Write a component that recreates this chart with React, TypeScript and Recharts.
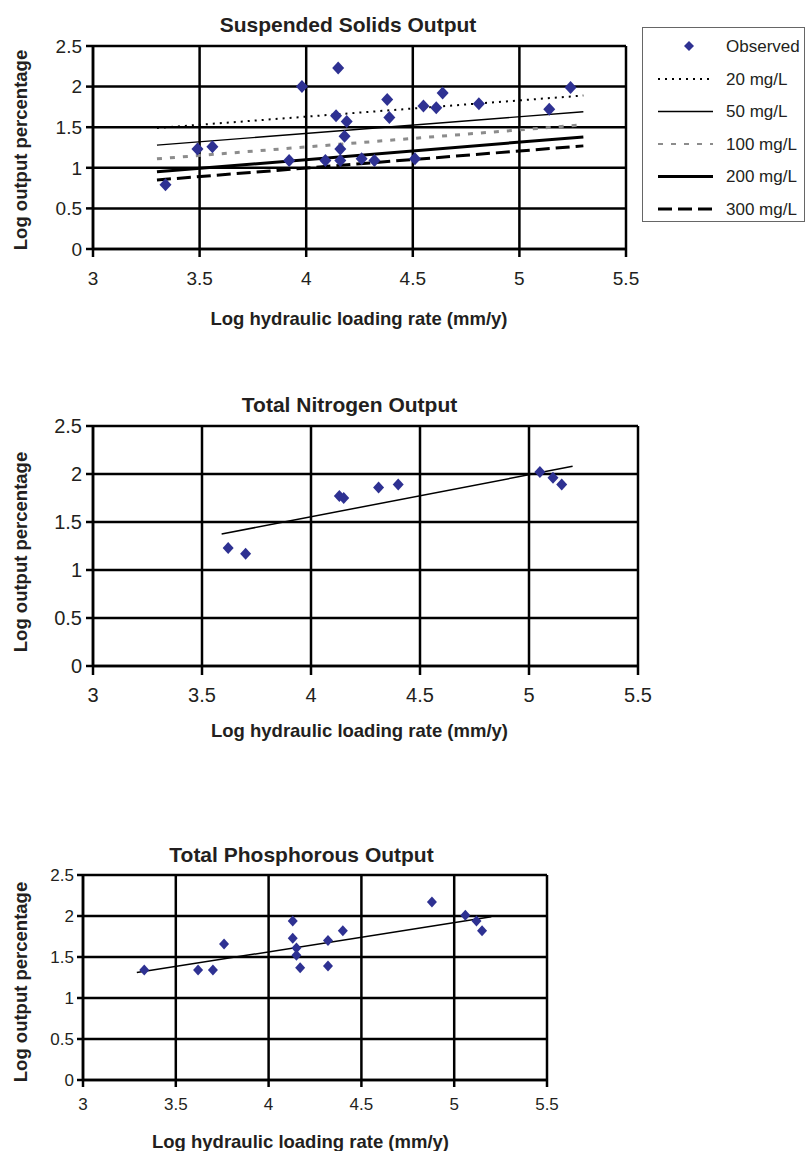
import { ComposedChart, Scatter, Line, XAxis, YAxis, CartesianGrid } from 'recharts';

type Pt = { x: number; y: number };

const xTicks = [3, 3.5, 4, 4.5, 5, 5.5];
const yTicks = [0, 0.5, 1, 1.5, 2, 2.5];

// Suspended solids
const ssObserved: Pt[] = [
  { x: 3.34, y: 0.79 }, { x: 3.49, y: 1.23 }, { x: 3.56, y: 1.26 }, { x: 3.92, y: 1.09 },
  { x: 3.98, y: 2.0 }, { x: 4.09, y: 1.09 }, { x: 4.14, y: 1.64 }, { x: 4.15, y: 2.23 },
  { x: 4.16, y: 1.23 }, { x: 4.16, y: 1.09 }, { x: 4.18, y: 1.39 }, { x: 4.19, y: 1.57 },
  { x: 4.26, y: 1.11 }, { x: 4.32, y: 1.09 }, { x: 4.38, y: 1.84 }, { x: 4.39, y: 1.62 },
  { x: 4.51, y: 1.11 }, { x: 4.55, y: 1.76 }, { x: 4.61, y: 1.74 }, { x: 4.64, y: 1.92 },
  { x: 4.81, y: 1.79 }, { x: 5.14, y: 1.72 }, { x: 5.24, y: 1.99 },
];
const ss20: Pt[] = [{ x: 3.3, y: 1.49 }, { x: 5.3, y: 1.89 }];
const ss50: Pt[] = [{ x: 3.3, y: 1.28 }, { x: 5.3, y: 1.69 }];
const ss100: Pt[] = [{ x: 3.3, y: 1.11 }, { x: 5.3, y: 1.53 }];
const ss200: Pt[] = [{ x: 3.3, y: 0.95 }, { x: 5.3, y: 1.38 }];
const ss300: Pt[] = [{ x: 3.3, y: 0.85 }, { x: 5.3, y: 1.27 }];

// Total nitrogen
const tnObserved: Pt[] = [
  { x: 3.62, y: 1.23 }, { x: 3.7, y: 1.17 }, { x: 4.13, y: 1.77 }, { x: 4.15, y: 1.75 },
  { x: 4.31, y: 1.86 }, { x: 4.4, y: 1.89 }, { x: 5.05, y: 2.02 }, { x: 5.11, y: 1.96 },
  { x: 5.15, y: 1.89 },
];
const tnTrend: Pt[] = [{ x: 3.59, y: 1.375 }, { x: 5.2, y: 2.08 }];

// Total phosphorous
const tpObserved: Pt[] = [
  { x: 3.33, y: 1.34 }, { x: 3.62, y: 1.34 }, { x: 3.7, y: 1.34 }, { x: 3.76, y: 1.66 },
  { x: 4.13, y: 1.94 }, { x: 4.13, y: 1.73 }, { x: 4.15, y: 1.61 }, { x: 4.15, y: 1.52 },
  { x: 4.17, y: 1.37 }, { x: 4.32, y: 1.39 }, { x: 4.32, y: 1.7 }, { x: 4.4, y: 1.82 },
  { x: 4.88, y: 2.17 }, { x: 5.06, y: 2.01 }, { x: 5.12, y: 1.94 }, { x: 5.15, y: 1.82 },
];
const tpTrend: Pt[] = [{ x: 3.29, y: 1.31 }, { x: 5.2, y: 1.99 }];

const FONT = '"Liberation Sans", Arial, Helvetica, sans-serif';
const INK = '#231f20';
const MARKER = '#2e3192';

interface LineSpec {
  name: string;
  data: Pt[];
  stroke: string;
  width: number;
  dash?: string;
}

const ssLines: LineSpec[] = [
  { name: '20 mg/L', data: ss20, stroke: '#000', width: 2, dash: '2 5' },
  { name: '50 mg/L', data: ss50, stroke: '#000', width: 1.3 },
  { name: '100 mg/L', data: ss100, stroke: '#8c8c8c', width: 3, dash: '5 8' },
  { name: '200 mg/L', data: ss200, stroke: '#000', width: 3 },
  { name: '300 mg/L', data: ss300, stroke: '#000', width: 3, dash: '14 6' },
];

function Diamond(props: any) {
  const { cx, cy, rx, ry } = props;
  if (cx == null || cy == null) return null;
  return (
    <polygon
      points={`${cx},${cy - ry} ${cx + rx},${cy} ${cx},${cy + ry} ${cx - rx},${cy}`}
      fill={MARKER}
    />
  );
}

interface PanelProps {
  top: number;
  height: number;
  margin: { top: number; right: number; bottom: number; left: number };
  fontSize: number;
  xTickSize: number;
  xTickMargin: number;
  yTickSize: number;
  yTickMargin: number;
  rx: number;
  ry: number;
  observed: Pt[];
  lines: LineSpec[];
}

function Panel(p: PanelProps) {
  const tick = { fill: INK, fontSize: p.fontSize, fontFamily: FONT };
  const axisLine = { stroke: '#000', strokeWidth: 2.5 };
  return (
    <div style={{ position: 'absolute', left: 0, top: p.top }}>
      <ComposedChart width={806} height={p.height} margin={p.margin}>
        <CartesianGrid stroke="#000" strokeWidth={2.5} />
        <XAxis
          type="number" dataKey="x" domain={[3, 5.5]} ticks={xTicks} interval={0}
          height={30} axisLine={axisLine} tickLine={axisLine}
          tickSize={p.xTickSize} tickMargin={p.xTickMargin} tick={tick} allowDataOverflow
        />
        <YAxis
          type="number" dataKey="y" domain={[0, 2.5]} ticks={yTicks} interval={0}
          width={60} axisLine={axisLine} tickLine={axisLine}
          tickSize={p.yTickSize} tickMargin={p.yTickMargin} tick={tick} allowDataOverflow
        />
        {p.lines.map(l => (
          <Line
            key={l.name} name={l.name} data={l.data} dataKey="y" type="linear"
            stroke={l.stroke} strokeWidth={l.width} strokeDasharray={l.dash}
            dot={false} activeDot={false} isAnimationActive={false}
          />
        ))}
        <Scatter
          name="Observed" data={p.observed} isAnimationActive={false}
          shape={(s: any) => <Diamond {...s} rx={p.rx} ry={p.ry} />}
        />
      </ComposedChart>
    </div>
  );
}

function LegendBox() {
  return (
    <div style={{
      position: 'absolute', left: 642, top: 27, width: 161, height: 193,
      border: '1.5px solid #666', background: '#fff', fontFamily: FONT, fontSize: 17, color: INK,
    }}>
      <svg width={161} height={193} style={{ position: 'absolute', left: 0, top: 0 }}>
        <polygon points="46,13 51,18 46,23 41,18" fill={MARKER} />
        <text x={83} y={18} dominantBaseline="central" fill={INK} fontSize={17} fontFamily={FONT}>Observed</text>
        {ssLines.map((l, i) => {
          const y = 51 + i * 32.5;
          return (
            <g key={l.name}>
              <line x1={15} x2={70} y1={y} y2={y} stroke={l.stroke}
                strokeWidth={l.name === '100 mg/L' ? 2 : l.width} strokeDasharray={l.dash} />
              <text x={83} y={y} dominantBaseline="central" fill={INK} fontSize={17} fontFamily={FONT}>{l.name}</text>
            </g>
          );
        })}
      </svg>
    </div>
  );
}

export default function App() {
  const titleStyle = { fontFamily: FONT, fontWeight: 700, fill: INK };
  const xTitle = 'Log hydraulic loading rate (mm/y)';
  const yTitle = 'Log output percentage';
  return (
    <div style={{ position: 'absolute', left: 0, top: 0, width: 806, height: 1151, background: '#fff' }}>
      <Panel
        top={0} height={340} margin={{ top: 46, right: 180, bottom: 61, left: 33 }}
        fontSize={19} xTickSize={8} xTickMargin={15} yTickSize={7} yTickMargin={4}
        rx={6} ry={6.5} observed={ssObserved} lines={ssLines}
      />
      <Panel
        top={380} height={360} margin={{ top: 46, right: 168, bottom: 44, left: 33 }}
        fontSize={20} xTickSize={9} xTickMargin={13} yTickSize={7} yTickMargin={4}
        rx={5.5} ry={6} observed={tnObserved}
        lines={[{ name: 'Trend', data: tnTrend, stroke: '#000', width: 1.5 }]}
      />
      <Panel
        top={830} height={321} margin={{ top: 45, right: 259, bottom: 41, left: 23 }}
        fontSize={17} xTickSize={7} xTickMargin={11} yTickSize={6} yTickMargin={3}
        rx={5} ry={5.5} observed={tpObserved}
        lines={[{ name: 'Trend', data: tpTrend, stroke: '#000', width: 1.5 }]}
      />
      <LegendBox />
      <svg width={806} height={1151} style={{ position: 'absolute', left: 0, top: 0, pointerEvents: 'none' }}>
        <text x={348} y={31.5} textAnchor="middle" fontSize={21} {...titleStyle}>Suspended Solids Output</text>
        <text x={359} y={325} textAnchor="middle" fontSize={18.5} {...titleStyle}>{xTitle}</text>
        <text transform="translate(27,150) rotate(-90)" textAnchor="middle" fontSize={18.5} {...titleStyle}>{yTitle}</text>

        <text x={349.5} y={411.5} textAnchor="middle" fontSize={21} {...titleStyle}>Total Nitrogen Output</text>
        <text x={359.5} y={737} textAnchor="middle" fontSize={18.5} {...titleStyle}>{xTitle}</text>
        <text transform="translate(27,552) rotate(-90)" textAnchor="middle" fontSize={18.5} {...titleStyle}>{yTitle}</text>

        <text x={301.5} y={861.5} textAnchor="middle" fontSize={21} {...titleStyle}>Total Phosphorous Output</text>
        <text x={300.5} y={1148} textAnchor="middle" fontSize={18.5} {...titleStyle}>{xTitle}</text>
        <text transform="translate(27,982) rotate(-90)" textAnchor="middle" fontSize={18.5} {...titleStyle}>{yTitle}</text>
      </svg>
    </div>
  );
}
